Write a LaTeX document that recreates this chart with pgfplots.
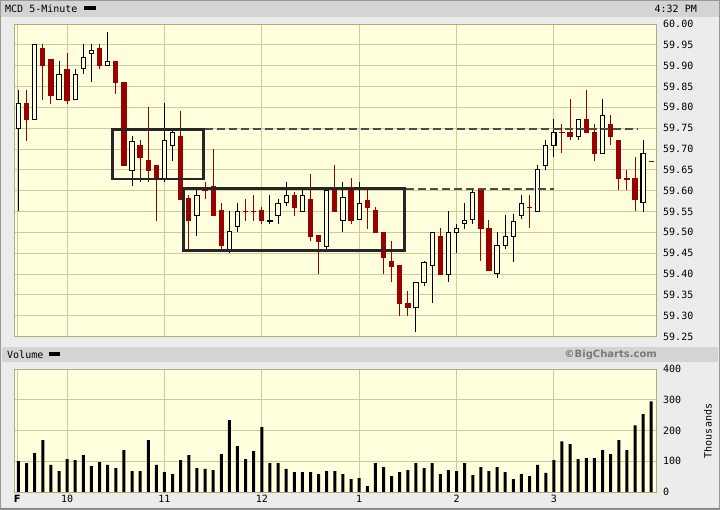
\documentclass[border=0pt]{standalone}
\usepackage{pgfplots}
\pgfplotsset{compat=1.18}
\usepackage{pgfplotstable}
\usepackage{fontspec}
\setmainfont{DejaVu Sans Mono}
\newfontfamily\wmfont{DejaVu Sans}

\definecolor{plotbg}{RGB}{255,255,222}
\definecolor{gridc}{RGB}{204,204,153}
\definecolor{candred}{RGB}{153,0,0}
\definecolor{panelbg}{RGB}{236,236,236}
\definecolor{bandbg}{RGB}{212,212,212}

% 5-minute bars, index 0 = 9:30 ... 78 = 4:00; d: 1 hollow/black, -1 red
\pgfplotstableread{
i o h l c d
0 59.750 59.842 59.550 59.810 1
1 59.810 59.842 59.720 59.771 -1
2 59.771 59.951 59.771 59.951 1
3 59.940 59.952 59.818 59.900 -1
4 59.916 59.916 59.808 59.831 -1
5 59.819 59.911 59.819 59.879 1
6 59.892 59.930 59.809 59.819 -1
7 59.819 59.891 59.819 59.879 1
8 59.892 59.951 59.879 59.920 1
9 59.930 59.951 59.860 59.939 1
10 59.940 59.951 59.891 59.900 -1
11 59.901 59.981 59.901 59.911 1
12 59.911 59.911 59.831 59.859 -1
13 59.861 59.861 59.660 59.660 -1
14 59.649 59.732 59.610 59.719 1
15 59.709 59.722 59.620 59.680 -1
16 59.673 59.801 59.620 59.649 -1
17 59.661 59.661 59.528 59.629 -1
18 59.629 59.811 59.620 59.721 1
19 59.709 59.750 59.671 59.740 1
20 59.731 59.791 59.579 59.579 -1
21 59.580 59.589 59.458 59.528 -1
22 59.541 59.602 59.490 59.589 1
23 59.602 59.620 59.579 59.602 -1
24 59.611 59.699 59.540 59.540 -1
25 59.552 59.570 59.458 59.468 -1
26 59.459 59.552 59.450 59.503 1
27 59.515 59.570 59.500 59.551 1
28 59.551 59.579 59.528 59.551 -1
29 59.551 59.589 59.528 59.551 -1
30 59.552 59.560 59.519 59.528 -1
31 59.529 59.589 59.519 59.529 1
32 59.541 59.580 59.519 59.570 1
33 59.570 59.620 59.562 59.589 1
34 59.589 59.597 59.540 59.560 -1
35 59.551 59.602 59.551 59.589 1
36 59.580 59.640 59.478 59.490 -1
37 59.492 59.492 59.400 59.478 -1
38 59.468 59.607 59.459 59.602 1
39 59.602 59.661 59.551 59.551 -1
40 59.529 59.620 59.500 59.584 1
41 59.602 59.630 59.519 59.529 -1
42 59.533 59.620 59.529 59.570 1
43 59.578 59.602 59.509 59.561 -1
44 59.553 59.561 59.500 59.500 -1
45 59.501 59.501 59.400 59.440 -1
46 59.432 59.480 59.380 59.418 -1
47 59.420 59.420 59.298 59.330 -1
48 59.331 59.359 59.298 59.321 -1
49 59.321 59.381 59.260 59.381 1
50 59.381 59.432 59.370 59.429 1
51 59.421 59.501 59.330 59.501 1
52 59.492 59.510 59.400 59.400 -1
53 59.400 59.551 59.380 59.501 1
54 59.501 59.521 59.450 59.510 1
55 59.520 59.571 59.509 59.529 1
56 59.531 59.602 59.520 59.595 1
57 59.602 59.602 59.430 59.509 -1
58 59.511 59.530 59.409 59.409 -1
59 59.402 59.501 59.390 59.469 1
60 59.469 59.541 59.460 59.491 1
61 59.489 59.545 59.428 59.527 1
62 59.541 59.590 59.533 59.570 1
63 59.561 59.590 59.510 59.561 -1
64 59.550 59.662 59.550 59.650 1
65 59.661 59.721 59.649 59.709 1
66 59.709 59.772 59.681 59.741 1
67 59.741 59.760 59.690 59.741 -1
68 59.741 59.820 59.721 59.730 -1
69 59.731 59.772 59.721 59.772 1
70 59.772 59.842 59.741 59.741 -1
71 59.741 59.760 59.670 59.689 -1
72 59.690 59.820 59.690 59.781 1
73 59.760 59.781 59.709 59.730 -1
74 59.721 59.721 59.601 59.629 -1
75 59.629 59.650 59.601 59.629 -1
76 59.630 59.681 59.550 59.580 -1
77 59.572 59.722 59.548 59.690 1
78 59.671 59.671 59.671 59.671 -1
}\candles

% volume in thousands
\pgfplotstableread{
i v
0 100
1 94
2 126
3 169
4 88
5 68
6 107
7 104
8 120
9 84
10 97
11 88
12 78
13 136
14 68
15 68
16 169
17 88
18 65
19 58
20 104
21 120
22 78
23 75
24 71
25 123
26 234
27 149
28 107
29 133
30 211
31 94
32 94
33 75
34 65
35 65
36 65
37 58
38 68
39 68
40 58
41 42
42 45
43 19
44 94
45 81
46 52
47 65
48 71
49 94
50 78
51 94
52 58
53 71
54 68
55 94
56 55
57 81
58 68
59 81
60 65
61 42
62 58
63 52
64 88
65 62
66 104
67 165
68 156
69 107
70 110
71 110
72 136
73 123
74 169
75 136
76 217
77 253
78 295
}\volume

\pgfplotsset{
  panel/.style={
    anchor=south west, scale only axis, width=642.5pt,
    xmin=-0.55, xmax=78.65,
    axis background/.style={fill=plotbg},
    axis line style={gridc!85!black, line width=0.8pt},
    grid=major, major grid style={gridc, line width=0.9pt},
    major tick length=0pt,
    xtick={-0.15,6,18,30,42,54,66},
    yticklabel pos=right,
    tick label style={font=\fontsize{10}{12}\selectfont},
    yticklabel style={anchor=west, inner sep=0pt, xshift=6.5pt},
  },
  bars only/.style={draw=none, mark=none,
    error bars/y explicit, error bars/error mark=none},
}

\begin{document}
\begin{tikzpicture}
\path[use as bounding box] (0,0) rectangle (720pt,510pt);
\begin{scope}[x=1pt,y=1pt]
  \fill[panelbg] (0,0) rectangle (720,510);
  \fill[bandbg] (0,493) rectangle (720,510);
  \fill[bandbg] (2,148) rectangle (718,163);
  \draw[gray!80, line width=1pt] (0.5,0.5) rectangle (719.5,509.5);
  \draw[gray, line width=1.5pt] (0,1.5) -- (720,1.5);
\end{scope}

% price panel
\begin{axis}[panel,
  at={(14pt,173.5pt)}, height=312.5pt,
  ymin=59.25, ymax=60,
  xticklabel=\empty,
  ytick={59.25,59.30,59.35,59.40,59.45,59.50,59.55,59.60,59.65,59.70,59.75,59.80,59.85,59.90,59.95,60.00},
  yticklabel style={/pgf/number format/.cd, fixed, fixed zerofill, precision=2, assume math mode=true},
]
% wicks
\addplot[bars only, error bars/y dir=plus,
  error bars/error bar style={draw=black, line width=1pt}]
  table[x=i, y expr={\thisrow{d}>0 ? \thisrow{l} : nan}, y error expr={\thisrow{h}-\thisrow{l}}] {\candles};
\addplot[bars only, error bars/y dir=plus,
  error bars/error bar style={draw=candred, line width=1pt}]
  table[x=i, y expr={\thisrow{d}<0 ? \thisrow{l} : nan}, y error expr={\thisrow{h}-\thisrow{l}}] {\candles};
% red bodies
\addplot[bars only, error bars/y dir=both,
  error bars/error bar style={draw=candred, line width=5.3pt}]
  table[x=i, y expr={\thisrow{d}<0 ? (\thisrow{o}+\thisrow{c})/2 : nan},
    y error expr={abs(\thisrow{c}-\thisrow{o})/2+0.0012}] {\candles};
% hollow bodies: outline, then fill
\addplot[bars only, error bars/y dir=both,
  error bars/error bar style={draw=black, line width=5.3pt}]
  table[x=i, y expr={\thisrow{d}>0 ? (\thisrow{o}+\thisrow{c})/2 : nan},
    y error expr={abs(\thisrow{c}-\thisrow{o})/2+0.0012}] {\candles};
\addplot[bars only, error bars/y dir=both,
  error bars/error bar style={draw=plotbg, line width=3.2pt}]
  table[x=i, y expr={\thisrow{d}>0 ? (\thisrow{o}+\thisrow{c})/2 : nan},
    y error expr={max(abs(\thisrow{c}-\thisrow{o})/2-0.0012,0)}] {\candles};
% annotations
\draw[black!85, line width=2.8pt] (axis cs:11.58,59.747) rectangle (axis cs:22.77,59.628);
\draw[black!85, line width=2.8pt] (axis cs:20.30,59.605) rectangle (axis cs:47.55,59.457);
\draw[black!70, line width=2pt, dash pattern=on 8pt off 4pt] (axis cs:22.95,59.747) -- (axis cs:76.4,59.747);
\draw[black!70, line width=2pt, dash pattern=on 8pt off 4pt] (axis cs:47.75,59.605) -- (axis cs:66.0,59.605);
\end{axis}

% volume panel
\begin{axis}[panel,
  at={(14pt,18pt)}, height=123pt,
  ymin=0, ymax=400,
  ytick={0,100,200,300,400},
  xticklabels={{\wmfont\bfseries F},10,11,12,1,2,3},
  xticklabel style={inner sep=0pt, yshift=-3pt},
  yticklabel style={/pgf/number format/assume math mode=true},
]
\addplot[ybar, bar width=3pt, bar shift=0pt, fill=black, draw=none] table[x=i, y=v] {\volume};
\end{axis}

\begin{scope}[x=1pt,y=1pt, font=\fontsize{10}{12}\selectfont]
  \node[anchor=west, inner sep=0pt] at (5,501.5) {MCD 5-Minute};
  \fill (83.5,500) rectangle (95.5,504);
  \node[anchor=east, inner sep=0pt] at (697,501.5) {4:32 PM};
  \node[anchor=west, inner sep=0pt] at (7,155.5) {Volume};
  \fill (49,154) rectangle (60,157.5);
  \node[anchor=east, inner sep=0pt, text=gray!95!black] at (657,155.5) {\wmfont\bfseries ©BigCharts.com};
  \node[rotate=90, inner sep=0pt] at (708,79) {Thousands};
\end{scope}
\end{tikzpicture}
\end{document}
